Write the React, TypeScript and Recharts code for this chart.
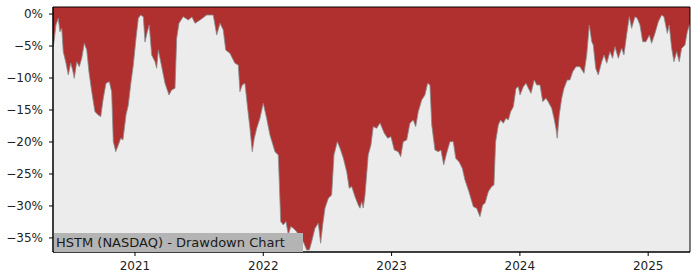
import { AreaChart, Area, XAxis, YAxis, CartesianGrid, ReferenceArea } from "recharts"

// decimal years and drawdown (%)
const years = [
  2020.361, 2020.369, 2020.384, 2020.402, 2020.415, 2020.429, 2020.441, 2020.462, 2020.48, 2020.499,
  2020.514, 2020.527, 2020.546, 2020.566, 2020.585, 2020.605, 2020.624, 2020.641, 2020.663, 2020.688,
  2020.714, 2020.733, 2020.753, 2020.774, 2020.8, 2020.818, 2020.831, 2020.85, 2020.87, 2020.889,
  2020.906, 2020.93, 2020.948, 2020.966, 2020.987, 2021.008, 2021.026, 2021.044, 2021.065, 2021.078,
  2021.096, 2021.111, 2021.13, 2021.156, 2021.169, 2021.182, 2021.208, 2021.234, 2021.265, 2021.286,
  2021.312, 2021.325, 2021.343, 2021.376, 2021.415, 2021.444, 2021.468, 2021.507, 2021.559, 2021.61,
  2021.637, 2021.663, 2021.688, 2021.707, 2021.74, 2021.779, 2021.805, 2021.818, 2021.836, 2021.857,
  2021.878, 2021.896, 2021.914, 2021.93, 2021.949, 2021.974, 2022.0, 2022.026, 2022.052, 2022.091,
  2022.117, 2022.136, 2022.156, 2022.177, 2022.195, 2022.214, 2022.234, 2022.26, 2022.286, 2022.312,
  2022.338, 2022.359, 2022.377, 2022.403, 2022.429, 2022.447, 2022.463, 2022.481, 2022.507, 2022.533,
  2022.551, 2022.577, 2022.598, 2022.624, 2022.65, 2022.67, 2022.689, 2022.715, 2022.74, 2022.754,
  2022.767, 2022.779, 2022.793, 2022.818, 2022.839, 2022.857, 2022.884, 2022.91, 2022.943, 2022.97,
  2022.995, 2023.021, 2023.052, 2023.071, 2023.091, 2023.118, 2023.143, 2023.169, 2023.188, 2023.208,
  2023.235, 2023.26, 2023.281, 2023.299, 2023.313, 2023.338, 2023.364, 2023.385, 2023.406, 2023.429,
  2023.455, 2023.481, 2023.5, 2023.525, 2023.551, 2023.572, 2023.603, 2023.637, 2023.663, 2023.689,
  2023.71, 2023.728, 2023.754, 2023.78, 2023.798, 2023.811, 2023.832, 2023.85, 2023.871, 2023.892,
  2023.91, 2023.928, 2023.949, 2023.97, 2023.988, 2024.001, 2024.027, 2024.048, 2024.066, 2024.087,
  2024.112, 2024.131, 2024.157, 2024.178, 2024.203, 2024.221, 2024.248, 2024.266, 2024.281, 2024.291,
  2024.307, 2024.326, 2024.344, 2024.369, 2024.39, 2024.412, 2024.437, 2024.468, 2024.5, 2024.521,
  2024.541, 2024.56, 2024.572, 2024.591, 2024.611, 2024.638, 2024.656, 2024.677, 2024.702, 2024.723,
  2024.741, 2024.767, 2024.793, 2024.811, 2024.832, 2024.853, 2024.871, 2024.897, 2024.915, 2024.936,
  2024.957, 2024.983, 2025.009, 2025.027, 2025.053, 2025.079, 2025.105, 2025.123, 2025.149, 2025.164,
  2025.183, 2025.201, 2025.222, 2025.242, 2025.261, 2025.287, 2025.305, 2025.326,
]

const drawdown = [
  -5.16, -4.33, -1.72, -0.67, -2.77, -2.23, -5.89, -7.66, -9.53, -7.66,
  -8.75, -10.05, -7.45, -8.23, -6.92, -4.58, -5.63, -9.02, -12.14, -15.27,
  -15.78, -16.05, -13.17, -10.83, -10.58, -12.14, -19.95, -21.52, -20.47, -19.42,
  -19.69, -15.78, -14.22, -11.09, -7.97, -3.8, -0.67, -0.16, -0.42, -4.38,
  -2.77, -1.72, -6.41, -7.45, -8.48, -5.63, -8.23, -10.83, -12.66, -11.88,
  -11.61, -3.8, -1.45, -0.42, -0.94, -0.47, -1.45, -0.94, -0.16, -0.16,
  -3.28, -1.45, -2.5, -5.63, -6.14, -7.7, -7.97, -12.14, -11.09, -10.83,
  -14.73, -17.86, -21.52, -19.42, -17.86, -16.3, -13.95, -16.3, -18.91, -21.52,
  -22.03, -32.45, -32.97, -32.45, -34.53, -33.23, -33.48, -34.02, -35.05, -35.58,
  -36.88, -36.88, -35.58, -33.48, -32.7, -35.83, -32.97, -30.36, -28.8, -28.28,
  -22.03, -19.95, -20.98, -22.55, -24.64, -27.23, -26.98, -28.55, -29.84, -30.36,
  -29.33, -30.31, -28.28, -22.03, -20.47, -17.61, -17.86, -17.03, -18.64, -19.42,
  -19.17, -21.25, -21.52, -22.3, -19.95, -19.69, -17.08, -16.56, -17.61, -15.27,
  -13.44, -12.66, -10.83, -11.09, -17.34, -21.25, -21.52, -21.25, -23.59, -21.77,
  -19.95, -19.95, -22.55, -23.08, -24.11, -25.94, -27.77, -30.11, -30.36, -31.67,
  -29.84, -29.58, -27.77, -26.98, -26.72, -19.95, -17.34, -16.56, -17.08, -16.3,
  -16.56, -15.27, -14.48, -11.61, -11.36, -12.66, -11.36, -10.83, -11.61, -12.39,
  -10.31, -11.09, -11.09, -13.7, -13.17, -13.7, -14.73, -16.3, -17.86, -19.42,
  -15.78, -13.17, -11.61, -10.31, -10.31, -9.02, -8.23, -8.23, -9.27, -6.41,
  -1.72, -4.33, -4.84, -8.48, -9.53, -7.45, -6.41, -7.7, -5.89, -6.92,
  -5.11, -6.92, -5.36, -6.41, -3.28, -0.42, -2.23, -0.42, -0.67, -1.72,
  -4.33, -4.33, -3.28, -4.58, -3.02, -1.2, -0.16, -0.42, -3.02, -1.72,
  -5.36, -7.45, -5.89, -7.45, -5.36, -4.84, -2.77, -1.45,
]

const yearTicks = [2021, 2022, 2023, 2024, 2025]
const pctTicks = [0, -5, -10, -15, -20, -25, -30, -35]
const title = "HSTM (NASDAQ) - Drawdown Chart"

const X_MIN = 2020.361
const X_MAX = 2025.326
const Y_MIN = -37.2
const Y_MAX = 1.1

const data = years.map((t, i) => ({ t, dd: drawdown[i] }))

const tickStyle = { fontSize: 12, fill: "#222", fontFamily: "DejaVu Sans" }

export default function App() {
  return (
    <div style={{ position: "absolute", left: 0, top: 0, width: 700, height: 280 }}>
      <AreaChart width={700} height={280} data={data} margin={{ top: 7, right: 10, left: 0, bottom: 0 }}>
        <CartesianGrid fill="#ececec" horizontal={false} vertical={false} />
        <XAxis
          dataKey="t"
          type="number"
          domain={[X_MIN, X_MAX]}
          ticks={yearTicks}
          allowDataOverflow
          height={28}
          tick={tickStyle}
          tickSize={4}
          tickMargin={5}
          stroke="#000"
          tickFormatter={(v: number) => String(Math.round(v))}
        />
        <YAxis
          type="number"
          domain={[Y_MIN, Y_MAX]}
          ticks={pctTicks}
          allowDataOverflow
          width={53}
          tick={tickStyle}
          tickSize={4}
          tickMargin={6}
          stroke="#000"
          tickFormatter={(v: number) => (v === 0 ? "0%" : `\u2212${Math.abs(v)}%`)}
        />
        <Area
          type="linear"
          dataKey="dd"
          baseValue={Y_MAX}
          fill="#b03030"
          fillOpacity={1}
          stroke="#8c8c8c"
          strokeWidth={0.8}
          isAnimationActive={false}
        />
        <ReferenceArea
          x1={X_MIN}
          x2={X_MAX}
          y1={Y_MIN}
          y2={Y_MAX}
          fill="none"
          fillOpacity={0}
          stroke="#000"
          strokeWidth={1}
          ifOverflow="visible"
        />
      </AreaChart>
      <div
        style={{
          position: "absolute",
          left: 54,
          top: 233,
          width: 249,
          height: 19,
          background: "#b4b4b4",
          fontFamily: "DejaVu Sans",
          fontSize: 13,
          lineHeight: "19px",
          color: "#1a1a1a",
          paddingLeft: 2,
          boxSizing: "border-box",
          whiteSpace: "nowrap",
        }}
      >
        {title}
      </div>
    </div>
  )
}
